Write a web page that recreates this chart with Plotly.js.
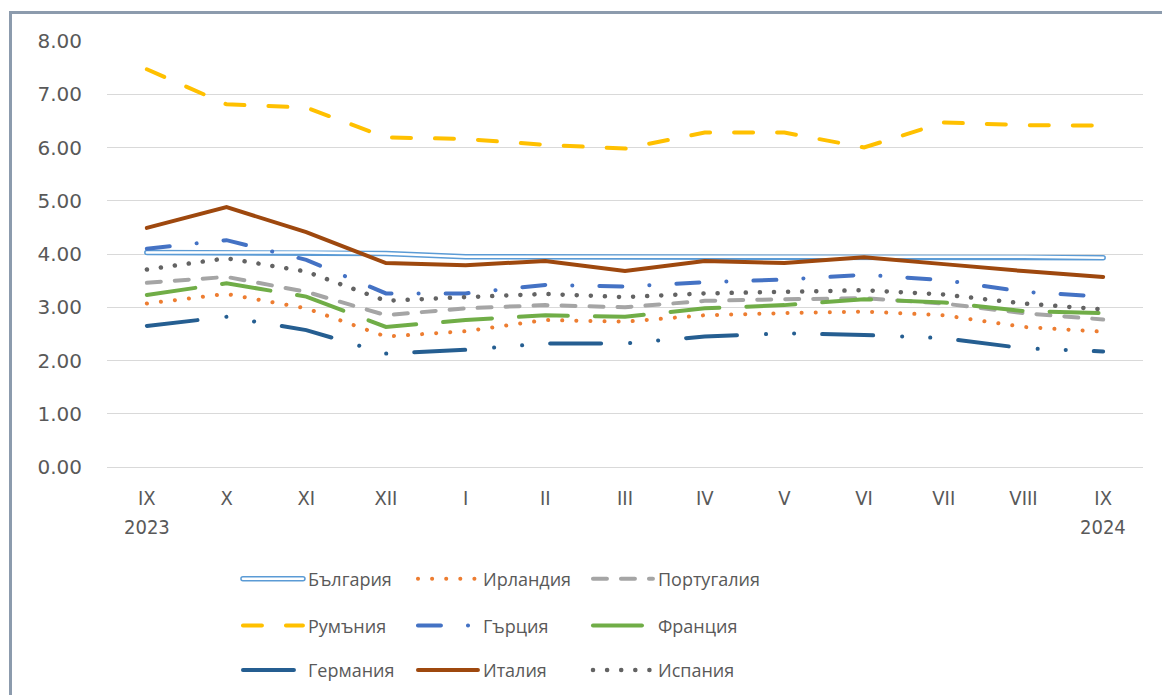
<!DOCTYPE html>
<html>
<head>
<meta charset="utf-8">
<script src="https://cdn.plot.ly/plotly-3.0.1.min.js"></script>
<style>
  html, body { margin: 0; padding: 0; background: #fff; }
  #wrap { position: relative; width: 1162px; height: 695px; overflow: hidden; background: #fff; }
  #frame { position: absolute; left: 9px; top: 11px; width: 1200px; height: 800px;
           border-left: 3px solid #8C9BAD; border-top: 3px solid #8C9BAD; box-sizing: border-box; }
  #chart { position: absolute; left: 0; top: 0; width: 1162px; height: 695px; }
  .scatterlayer .js-line, .legendlines path { stroke-linecap: round !important; }
</style>
</head>
<body>
<div id="wrap">
  <div id="frame"></div>
  <div id="chart"></div>
</div>
<script>
// ---- data ----
const months = ['IX', 'X', 'XI', 'XII', 'I', 'II', 'III', 'IV', 'V', 'VI', 'VII', 'VIII', 'IX'];
const years = ['2023', '2024'];
const bulgaria = [4.03, 4.03, 4.03, 4.01, 3.95, 3.95, 3.95, 3.95, 3.95, 3.95, 3.95, 3.95, 3.93];
const ireland  = [3.07, 3.25, 2.98, 2.45, 2.55, 2.76, 2.73, 2.85, 2.89, 2.92, 2.85, 2.63, 2.54];
const portugal = [3.46, 3.57, 3.29, 2.85, 2.98, 3.04, 3.00, 3.12, 3.15, 3.17, 3.07, 2.89, 2.77];
const romania  = [7.47, 6.81, 6.75, 6.19, 6.16, 6.05, 5.98, 6.28, 6.28, 6.00, 6.47, 6.42, 6.41];
const greece   = [4.10, 4.26, 3.89, 3.26, 3.26, 3.42, 3.39, 3.47, 3.52, 3.61, 3.51, 3.29, 3.20];
const france   = [3.23, 3.45, 3.20, 2.63, 2.76, 2.85, 2.82, 2.98, 3.04, 3.15, 3.09, 2.93, 2.89];
const germany  = [2.65, 2.82, 2.57, 2.13, 2.20, 2.32, 2.32, 2.45, 2.51, 2.48, 2.42, 2.23, 2.17];
const italy    = [4.49, 4.88, 4.41, 3.83, 3.79, 3.87, 3.68, 3.87, 3.83, 3.94, 3.81, 3.68, 3.57];
const spain    = [3.71, 3.92, 3.67, 3.12, 3.19, 3.25, 3.19, 3.26, 3.29, 3.32, 3.24, 3.07, 2.96];

const xIdx = months.map((m, i) => i);

function tr(name, y, color, width, dash, legend) {
  return { x: xIdx, y: y, name: name, type: 'scatter', mode: 'lines',
           line: { color: color, width: width, dash: dash },
           legend: legend, hoverinfo: 'skip' };
}

const traces = [
  tr('България', bulgaria, '#5B9BD5', 5.5, 'solid', 'legend'),
  { x: xIdx, y: bulgaria, type: 'scatter', mode: 'lines', showlegend: false,
    line: { color: '#ffffff', width: 2.5, dash: 'solid' }, hoverinfo: 'skip' },
  tr('Ирландия', ireland, '#ED7D31', 4, '0.1px,14px', 'legend'),
  tr('Португалия', portugal, '#A5A5A5', 4, '14px,14px', 'legend'),
  tr('Румъния', romania, '#FFC000', 4, '19px,24px', 'legend2'),
  tr('Гърция', greece, '#4472C4', 4, '23px,27px,0.1px,27px', 'legend2'),
  tr('Франция', france, '#70AD47', 4, '49px,27px', 'legend2'),
  tr('Германия', germany, '#255E91', 4, '51px,29px,0.1px,28px,0.1px,28px', 'legend3'),
  tr('Италия', italy, '#9E480E', 4, 'solid', 'legend3'),
  tr('Испания', spain, '#636363', 4.5, '0.1px,14px', 'legend3')
];

const legFont = { family: 'Open Sans, Noto Sans, sans-serif', size: 18, color: '#595959' };
function leg(y) {
  return { orientation: 'h', x: 0.1264, y: y, xanchor: 'left', yanchor: 'middle',
           entrywidth: 100, entrywidthmode: 'pixels', itemwidth: 60, font: legFont,
           bgcolor: 'rgba(0,0,0,0)', traceorder: 'normal' };
}

const tickFont = { family: 'Liberation Sans Narrow, DejaVu Sans Condensed, Roboto Condensed, Roboto, sans-serif', size: 20, color: '#595959' };

const layout = {
  width: 1162, height: 695,
  margin: { l: 107, r: 19, t: 41, b: 228, autoexpand: false },
  paper_bgcolor: 'rgba(0,0,0,0)', plot_bgcolor: 'rgba(0,0,0,0)',
  showlegend: true,
  xaxis: {
    range: [-0.5, 12.5], tickvals: xIdx, ticktext: months,
    showgrid: false, zeroline: false, showline: false, ticks: '',
    tickfont: tickFont, ticklabelstandoff: 17, fixedrange: true, automargin: false
  },
  yaxis: {
    range: [0, 8], dtick: 1, tickformat: '.2f',
    showgrid: true, gridcolor: '#D9D9D9', gridwidth: 1,
    zeroline: true, zerolinecolor: '#D9D9D9', zerolinewidth: 1,
    showline: false, ticks: '',
    tickfont: { family: 'DejaVu Sans, sans-serif', size: 20, color: '#595959' },
    ticklabelstandoff: 24, fixedrange: true, automargin: false
  },
  legend: leg(-0.263),
  legend2: leg(-0.373),
  legend3: leg(-0.477),
  annotations: [
    { x: 0, y: -0.141, xref: 'x', yref: 'paper', text: years[0], showarrow: false,
      font: tickFont, xanchor: 'center', yanchor: 'middle' },
    { x: 12, y: -0.141, xref: 'x', yref: 'paper', text: years[1], showarrow: false,
      font: tickFont, xanchor: 'center', yanchor: 'middle' }
  ]
};

Plotly.newPlot('chart', traces, layout, { displayModeBar: false, staticPlot: true }).then(function (gd) {
  // lengthen legend samples to match the original's wide legend keys
  gd.querySelectorAll('.legendlines path').forEach(function (p) {
    p.setAttribute('d', 'M5,0h60');
  });
  // double-line key for България
  gd.querySelectorAll('.traces').forEach(function (t) {
    var txt = t.querySelector('.legendtext');
    if (txt && txt.textContent === 'България') {
      var p = t.querySelector('.legendlines path');
      if (p) {
        var c = p.cloneNode(true);
        c.style.stroke = '#ffffff';
        c.style.strokeWidth = '2.5px';
        p.parentNode.appendChild(c);
      }
    }
  });
});
</script>
</body>
</html>
